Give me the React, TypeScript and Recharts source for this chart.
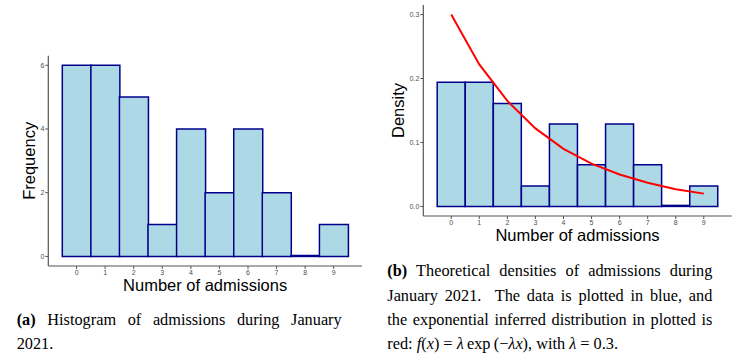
import React from 'react';
import { ComposedChart, Bar, Line, XAxis, YAxis, Label } from 'recharts';

const admissions = [0, 1, 2, 3, 4, 5, 6, 7, 8, 9];
const frequency = [6, 6, 5, 1, 4, 2, 4, 2, 0, 1];
const density = [0.194, 0.194, 0.161, 0.032, 0.129, 0.065, 0.129, 0.065, 0, 0.032];
const fitted = [0.3, 0.222, 0.165, 0.122, 0.09, 0.067, 0.05, 0.037, 0.027, 0.02];
const freqTicks = [0, 2, 4, 6];
const densTicks = [0, 0.1, 0.2, 0.3];

const histData = admissions.map((n, i) => ({ n, count: frequency[i] }));
const densData = admissions.map((n, i) => ({ n, dens: density[i], fit: fitted[i] }));

const FILL = '#ADD8E6';
const EDGE = '#00008B';
const AXIS = '#555555';
const tickStyle = { fontSize: 7, fill: '#4D4D4D' };

const serif = "'Liberation Serif', 'Times New Roman', serif";

function CaptionLine({ children, last }: { children: React.ReactNode; last?: boolean }) {
  return (
    <div style={{ textAlign: 'justify', textAlignLast: last ? 'left' : 'justify' }}>{children}</div>
  );
}

export default function App() {
  return (
    <div style={{ position: 'absolute', left: 0, top: 0, width: 740, height: 364, background: '#fff', fontFamily: "'Liberation Sans', Arial, sans-serif" }}>
      {/* (a) histogram */}
      <div style={{ position: 'absolute', left: 0, top: 0 }}>
        <ComposedChart width={370} height={300} data={histData} barCategoryGap={0} barGap={0}
          margin={{ top: 55.7, right: 8, left: 9.3, bottom: 0 }}>
          <XAxis dataKey="n" height={34} padding={{ left: 14, right: 14 }} tick={tickStyle}
            tickSize={3} tickMargin={1} axisLine={{ stroke: AXIS, strokeWidth: 1.2 }} tickLine={{ stroke: AXIS }}>
            <Label value="Number of admissions" position="insideBottom" offset={9} fontSize={16.5} fill="#000" />
          </XAxis>
          <YAxis type="number" width={39} domain={[-0.3, 6.3]} ticks={freqTicks} allowDataOverflow tick={tickStyle}
            tickSize={3} tickMargin={1} axisLine={{ stroke: AXIS, strokeWidth: 1.2 }} tickLine={{ stroke: AXIS }}>
            <Label value="Frequency" angle={-90} position="center" fontSize={16.5} fill="#000" />
          </YAxis>
          <Bar dataKey="count" fill={FILL} stroke={EDGE} strokeWidth={1.5} minPointSize={1} isAnimationActive={false} />
        </ComposedChart>
      </div>

      {/* (b) densities */}
      <div style={{ position: 'absolute', left: 370, top: 0 }}>
        <ComposedChart width={370} height={250} data={densData} barCategoryGap={0} barGap={0}
          margin={{ top: 5, right: 8.3, left: 3.3, bottom: 0 }}>
          <XAxis dataKey="n" height={34} padding={{ left: 13.9, right: 13.9 }} tick={tickStyle}
            tickSize={3} tickMargin={1} axisLine={{ stroke: AXIS, strokeWidth: 1.2 }} tickLine={{ stroke: AXIS }}>
            <Label value="Number of admissions" position="insideBottom" offset={9.3} fontSize={16.5} fill="#000" />
          </XAxis>
          <YAxis type="number" width={50} domain={[-0.015, 0.315]} ticks={densTicks} allowDataOverflow
            tickFormatter={(v: number) => v.toFixed(1)} tick={tickStyle}
            tickSize={3} tickMargin={1} axisLine={{ stroke: AXIS, strokeWidth: 1.2 }} tickLine={{ stroke: AXIS }}>
            <Label value="Density" angle={-90} position="center" fontSize={16.5} fill="#000" />
          </YAxis>
          <Bar dataKey="dens" fill={FILL} stroke={EDGE} strokeWidth={1.5} minPointSize={1} isAnimationActive={false} />
          <Line dataKey="fit" type="linear" stroke="#FF0000" strokeWidth={2} dot={false} isAnimationActive={false} />
        </ComposedChart>
      </div>

      {/* captions */}
      <div style={{ position: 'absolute', left: 16.7, top: 308, width: 325, fontFamily: serif, fontSize: 16.3, lineHeight: '24.3px', color: '#000' }}>
        <CaptionLine><b>(a)</b> Histogram of admissions during January</CaptionLine>
        <CaptionLine last>2021.</CaptionLine>
      </div>
      <div style={{ position: 'absolute', left: 387.3, top: 259.4, width: 325, fontFamily: serif, fontSize: 16.3, lineHeight: '24.3px', color: '#000' }}>
        <CaptionLine><b>(b)</b> Theoretical densities of admissions during</CaptionLine>
        <CaptionLine>January 2021.&nbsp; The data is plotted in blue, and</CaptionLine>
        <CaptionLine>the exponential inferred distribution in plotted is</CaptionLine>
        <CaptionLine last>
          red: <i>f</i>(<i>x</i>) = <i>λ</i>&#8201;exp&#8201;(−<i>λx</i>), with <i>λ</i> = 0.3.
        </CaptionLine>
      </div>
    </div>
  );
}
